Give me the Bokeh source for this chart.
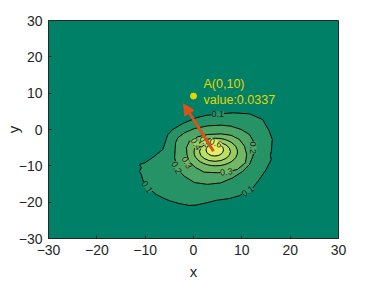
import math
from bokeh.plotting import figure
from bokeh.models import Arrow, NormalHead, FixedTicker, ColumnDataSource
from bokeh.core.properties import value
from bokeh.embed import file_html
from bokeh.resources import INLINE

# ---- data ----
levels = [0.0, 0.1, 0.2, 0.3, 0.4, 0.5, 0.6]
band_colors = ["#008066", "#259366", "#4BA566", "#70B866", "#96CB66", "#BBDE66", "#E1F066"]

# level 0.1 contour (irregular outer ring)
c01_x = [-4.3, -2.2, 0.56, 2.6, 5.0, 8.13, 11.6, 14.3, 15.7, 16.3, 16.1, 15.9, 16.08, 15.04,
         13.6, 12.27, 11.24, 9.5, 7.45, 4.7, 2.63, 0.56, -0.83, -2.9, -4.96, -6.35, -7.7,
         -9.8, -10.5, -10.8, -11.17, -10.8, -11.17, -10.1, -9.1, -8.07, -6.35, -5.65, -5.3]
c01_y = [0.0, 1.65, 3.2, 3.9, 4.2, 4.6, 4.3, 2.75, -0.5, -2.75, -6.0, -7.2, -8.26, -11.0,
         -13.8, -16.05, -17.0, -18.2, -19.0, -19.5, -20.2, -20.8, -20.9, -20.4, -19.6, -18.8, -17.9,
         -15.6, -13.8, -12.4, -11.5, -10.5, -9.6, -9.2, -8.3, -7.35, -5.5, -2.75, -1.4]

# level 0.2 contour
c02_x = [-3.8, -3.7, -3.25, -1.86, 0.2, 2.96, 5.73, 7.8, 9.87, 11.6, 12.4, 12.6, 12.27, 11.6,
         10.2, 8.13, 5.6, 2.9, 0.2, -1.86, -2.9, -3.6, -3.9]
c02_y = [-5.5, -3.6, -2.3, -0.9, 0.27, 1.0, 1.2, 0.9, 0.0, -1.4, -3.3, -5.5, -7.4, -9.6,
         -11.5, -13.3, -14.7, -15.1, -14.6, -12.9, -11.5, -9.6, -7.7]

# level 0.3 contour
c03_x = [-1.45, -0.83, 0.9, 2.96, 5.73, 7.8, 9.5, 10.55, 11.0, 10.76, 9.1, 6.8, 4.97, 2.2,
         0.47, -0.9, -1.35]
c03_y = [-5.0, -3.2, -2.0, -1.38, -1.2, -1.6, -2.75, -4.6, -6.9, -9.1, -11.0, -11.7, -11.9,
         -11.75, -10.5, -8.9, -6.9]

# levels 0.4 / 0.5 / 0.6: near-elliptic rings (centre, width, height)
ring_x = [4.6, 4.45, 4.4]
ring_y = [-6.2, -6.1, -5.6]
ring_w = [9.0, 6.4, 3.6]
ring_h = [7.6, 5.3, 3.4]

# contour labels
lab_text = ["0.1", "0.1", "0.1", "0.2", "0.2", "0.3", "0.3", "0.4", "0.5", "0.6"]
lab_x = [5.0, -9.6, 11.2, 12.4, -3.5, -1.4, 6.8, 0.5, 2.4, 4.6]
lab_y = [4.2, -15.8, -17.0, -5.0, -10.5, -9.1, -11.7, -4.0, -3.4, -3.7]
lab_angle = [0, -55, 35, -90, -62, -62, 8, -60, -50, -22]
lab_band = [1, 1, 1, 2, 2, 3, 3, 4, 5, 6]

# annotation
arrow_start = [4.14, -5.97]
arrow_end = [-2.07, 7.07]
point_x = [0.0]
point_y = [9.2]
note_lines = ["A(0,10)", "value:0.0337"]
note_x = [2.07, 2.07]
note_y = [12.6, 8.25]

x_ticks = [-30, -20, -10, 0, 10, 20, 30]
y_ticks = [-30, -20, -10, 0, 10, 20, 30]

# ---- figure ----
FONT = "Liberation Sans"
AX = "#262626"
p = figure(frame_width=290, frame_height=218, x_range=(-30, 30), y_range=(-30, 30),
           output_backend="svg", toolbar_location=None,
           min_border_left=48, min_border_right=30, min_border_top=20, min_border_bottom=44)
p.background_fill_color = band_colors[0]
p.grid.visible = False
p.outline_line_color = AX
p.outline_line_width = 1

for ax, ticks in ((p.xaxis[0], x_ticks), (p.yaxis[0], y_ticks)):
    ax.ticker = FixedTicker(ticks=ticks)
    ax.major_tick_in = 3
    ax.major_tick_out = 0
    ax.minor_tick_in = 0
    ax.minor_tick_out = 0
    ax.axis_line_color = AX
    ax.major_tick_line_color = AX
    ax.major_label_text_font = FONT
    ax.major_label_text_font_size = "14px"
    ax.major_label_text_color = AX
    ax.major_label_standoff = 6
    ax.axis_label_text_font = FONT
    ax.axis_label_text_font_size = "15px"
    ax.axis_label_text_font_style = "normal"
    ax.axis_label_text_color = AX

p.xaxis[0].axis_label = "x"
p.xaxis[0].axis_label_standoff = 5
p.yaxis[0].axis_label = "y"
p.yaxis[0].axis_label_standoff = -6

# filled contour bands (outer to inner)
p.patch(c01_x, c01_y, fill_color=band_colors[1], line_color="black", line_width=1)
p.patch(c02_x, c02_y, fill_color=band_colors[2], line_color="black", line_width=1)
p.patch(c03_x, c03_y, fill_color=band_colors[3], line_color="black", line_width=1)
ring_src = ColumnDataSource(dict(x=ring_x, y=ring_y, w=ring_w, h=ring_h, c=band_colors[4:7]))
p.ellipse(x="x", y="y", width="w", height="h", fill_color="c", line_color="black",
          line_width=1, source=ring_src)

lab_src = ColumnDataSource(dict(x=lab_x, y=lab_y, t=lab_text,
                                a=[math.radians(v) for v in lab_angle],
                                bg=[band_colors[i] for i in lab_band]))
p.text(x="x", y="y", text="t", angle="a", source=lab_src, text_font=value(FONT),
       text_font_size="9px", text_color="#1a1a1a", text_align="center", text_baseline="middle",
       background_fill_color="bg")

# arrow and point
orange = "#D95319"
p.add_layout(Arrow(end=NormalHead(size=11, fill_color=orange, line_color=orange, line_width=1),
                   x_start=arrow_start[0], y_start=arrow_start[1],
                   x_end=arrow_end[0], y_end=arrow_end[1],
                   line_color=orange, line_width=3))
yellow = "#E8D400"
p.scatter(point_x, point_y, size=6, color=yellow)
p.text(x=note_x, y=note_y, text=note_lines, text_font=value(FONT), text_font_size="12.5px",
       text_color=yellow, text_align="left", text_baseline="middle")

open("out.html", "w").write(file_html(p, INLINE))
